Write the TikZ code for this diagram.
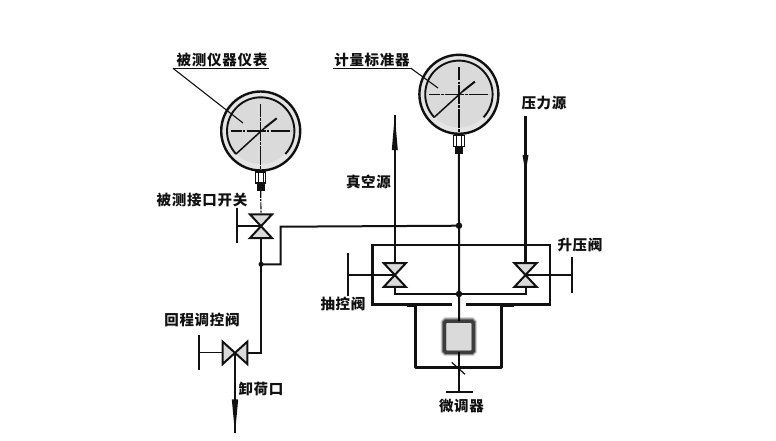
\documentclass[tikz,border=0pt]{standalone}
\usepackage{fontspec}
\newfontfamily\cjk[LetterSpace=5]{Noto Sans CJK SC}
\usetikzlibrary{calc}
\definecolor{dial}{HTML}{DADADA}
\definecolor{ink}{HTML}{111111}
\tikzset{
  pipe/.style={draw=ink,line width=2pt},
  thin pipe/.style={draw=ink,line width=1.5pt},
  wall/.style={draw=ink,line width=2.5pt},
  lead/.style={draw=ink,line width=1.1pt},
  lab/.style={font=\cjk\bfseries\fontsize{14.5}{14.5}\selectfont,text=ink,inner sep=0pt},
  valvebody/.style={draw=ink,fill=dial,line width=2pt,line join=miter},
  dot/.style={circle,fill=ink,inner sep=0pt,minimum size=6.5pt},
  smalldot/.style={circle,fill=ink,inner sep=0pt,minimum size=5pt},
  centreline/.style={draw=ink,line width=1.2pt,dash pattern=on 19pt off 1.2pt on 2.5pt off 1.2pt},
  gaugebody/.style={circle,draw=ink,fill=dial!70!white,line width=2.4pt,minimum size=79pt,inner sep=0pt},
}
\newcommand{\gaugedraw}[3]{%
  \node[gaugebody] (#1) at (#2,#3) {};
  \begin{scope}[shift={(#2,#3)}]
    \fill[dial] (0,0) circle[radius=33];
    \draw[draw=ink,line width=1.9pt] (137:33.7) arc[start angle=137,end angle=403,radius=33.7];
    \draw[draw=ink,line width=1.5pt] (-24.7,23) -- (4,-3.2);
    \draw[line width=2pt,draw=ink] (4,-3.2) -- (16,-12.7);
    \draw[centreline,dash phase=8pt] (-30,0) -- (30,0);
    \draw[centreline,dash phase=6pt] (0,-27) -- (0,39);
    \draw[draw=ink,line width=1.1pt,fill=white] (-5.2,41) rectangle (5.2,52);
    \draw[draw=ink,line width=.9pt] (-2.4,41) -- (-2.4,52) (2.4,41) -- (2.4,52);
    \fill[ink] (-4.2,52) rectangle (4.2,60);
  \end{scope}}
\newcommand{\vvalve}[3]{% vertical hourglass valve
  \coordinate (#1) at (#2,#3);
  \coordinate (#1t) at (#2,#3-11.8);
  \coordinate (#1b) at (#2,#3+11.8);
  \draw[valvebody] ($(#1)+(-11,-11.8)$) -- ($(#1)+(11,-11.8)$) -- ($(#1)+(-11,11.8)$) -- ($(#1)+(11,11.8)$) -- cycle;}
\begin{document}
\begin{tikzpicture}[x=1pt,y=-1pt]
\useasboundingbox (0,0) rectangle (776,440);
\fill[white] (0,0) rectangle (776,440);

% gauges
\gaugedraw{gone}{260.7}{131}
\gaugedraw{gtwo}{458.9}{94.3}
\coordinate (goneout) at (260.7,191);
\coordinate (gtwoout) at (458.9,154);

% labels
\node[lab] (tone) at (222,60) {被测仪器仪表};
\node[lab] (ttwo) at (372,60) {计量标准器};
\node[lab] (tthree) at (202,200) {被测接口开关};
\node[lab] (tfour) at (544,103) {压力源};
\node[lab] (tfive) at (368.5,181.5) {真空源};
\node[lab] (tsix) at (580,245) {升压阀};
\node[lab] (tseven) at (343,303.5) {抽控阀};
\node[lab] (teight) at (202,320) {回程调控阀};
\node[lab] (tnine) at (261,389) {卸荷口};
\node[lab] (tten) at (461.5,406) {微调器};

% leaders
\coordinate (ulA) at (173,68.3);
\coordinate (ulB) at (269,68.3);
\coordinate (ulC) at (332.5,68.3);
\coordinate (ulD) at (411,68.3);
\coordinate (leadA) at (243,123);
\coordinate (leadB) at (438,88);
\draw[lead,line width=1.6pt] (ulA) -- (ulB);
\draw[lead] (ulA) -- (leadA);
\draw[lead,line width=1.6pt] (ulC) -- (ulD);
\draw[lead] (ulD) -- (leadB);

% box
\coordinate (bl) at (372.7,304.3);
\coordinate (tl) at (372.7,245);
\coordinate (tr) at (550,245);
\coordinate (br) at (550,304.3);
\coordinate (gapL) at (451.7,304.3);
\coordinate (gapR) at (465.7,304.3);
\draw[wall,line join=miter] (gapL) -- (bl) -- (tl) -- (tr) -- (br) -- (gapR);
\fill[ink] (407,303.5) rectangle (417,307);
\fill[ink] (500,303.5) rectangle (513.5,307);

% inner U
\coordinate (uL) at (415.3,304.3);
\coordinate (uLb) at (415.3,367.7);
\coordinate (uRb) at (501.3,367.7);
\coordinate (uR) at (501.3,304.3);
\draw[wall,line width=2.7pt,line join=round] (uL) -- (uLb) -- (uRb) -- (uR);

% main pipes
\coordinate (jtop) at (459,225.7);
\coordinate (jlow) at (459,294);
\coordinate (blockTop) at (459,321);
\coordinate (blockBot) at (459,352.3);
\coordinate (stemEnd) at (459,391.7);
\coordinate (teeL) at (445.7,391.7);
\coordinate (teeR) at (473.3,391.7);
\coordinate (slashA) at (451.7,362.3);
\coordinate (slashB) at (465,374.3);
\draw[pipe] (gtwoout) -- (jtop) -- (jlow) -- (blockTop);
\draw[pipe] (blockBot) -- (stemEnd);
\draw[pipe] (teeL) -- (teeR);
\draw[lead,line width=1.2pt] (slashA) -- (slashB);

% block
\foreach \w/\o in {8/.12,6.5/.2,5/.3,3.4/.5}{
  \draw[black,line width=\w pt,opacity=\o,rounded corners=1.5pt] (444.5,321.2) rectangle (473.2,352.2);}
\fill[dial,rounded corners=1pt] (446.3,323) rectangle (471.4,350.4);

% vacuum and pressure lines with valves
\coordinate (vacTop) at (394.8,115);
\coordinate (presTop) at (525.5,116);
\vvalve{vl}{394.8}{275}
\vvalve{vr}{525.5}{275}
\draw[pipe,line width=2.1pt] (vacTop) -- (vlt);
\draw[pipe,line width=2.1pt] (presTop) -- (vrt);
\coordinate (vacH) at (394.8,150);
\coordinate (presH) at (525.5,155);
\fill[ink] (vacTop) -- ($(vacH)+(3,0)$) -- ($(vacH)+(-3,0)$) -- cycle;
\fill[ink] ($(presH)+(0,18)$) -- ($(presH)+(3,0)$) -- ($(presH)+(-3,0)$) -- cycle;
\coordinate (lowL) at (394.8,294);
\coordinate (lowR) at (525.5,294);
\draw[pipe,line join=miter] (vlb) -- (lowL) -- (jlow) -- (lowR) -- (vrb);
\coordinate (hlA) at (348.3,275);
\coordinate (hlB) at (348.3,253);
\coordinate (hlC) at (348.3,296);
\coordinate (hrA) at (571.7,275);
\coordinate (hrB) at (571.7,257);
\coordinate (hrC) at (571.7,292.7);
\draw[thin pipe] (vl) -- (hlA);
\draw[thin pipe] (vr) -- (hrA);
\draw[thin pipe,line width=1.7pt] (hlB) -- (hlC);
\draw[thin pipe,line width=1.7pt] (hrB) -- (hrC);

% valve 1 and left circuit
\vvalve{vo}{261}{226.2}
\coordinate (hoA) at (236.7,226.2);
\coordinate (hoB) at (236.7,208);
\coordinate (hoC) at (236.7,243);
\draw[thin pipe] (vo) -- (hoA);
\draw[thin pipe,line width=1.7pt] (hoB) -- (hoC);
\draw[centreline,dash pattern=on 7pt off 1.2pt on 2pt off 1.2pt] (goneout) -- (vot);
\coordinate (jleft) at (261,264.3);
\coordinate (cornerA) at (280.7,264.3);
\coordinate (cornerB) at (280.7,226.7);
\coordinate (v3r) at (261,352.7);
\draw[pipe,line join=miter] (vob) -- (jleft) -- (v3r) -- (247.3,352.7);
\draw[pipe,line join=miter] (jleft) -- (cornerA) -- (cornerB) -- (jtop);

% valve 3
\coordinate (vth) at (235,352.7);
\coordinate (hthA) at (199,352.7);
\coordinate (hthB) at (199,335);
\coordinate (hthC) at (199,370);
\coordinate (drain) at (235,433.3);
\coordinate (drainH) at (235,399.3);
\draw[thin pipe] (222.7,352.7) -- (hthA);
\draw[thin pipe,line width=1.8pt] (hthB) -- (hthC);
\draw[valvebody] (222.7,341.7) -- (247.3,364) -- (247.3,341.7) -- (222.7,364) -- cycle;
\draw[pipe] (vth) -- (drain);
\fill[ink] (drain) -- ($(drainH)+(3.2,0)$) -- ($(drainH)+(-3.2,0)$) -- cycle;

% junction dots
\node[dot] (dA) at (jtop) {};
\node[dot] (dB) at (jlow) {};
\node[smalldot] (dC) at (jleft) {};
\end{tikzpicture}
\end{document}
